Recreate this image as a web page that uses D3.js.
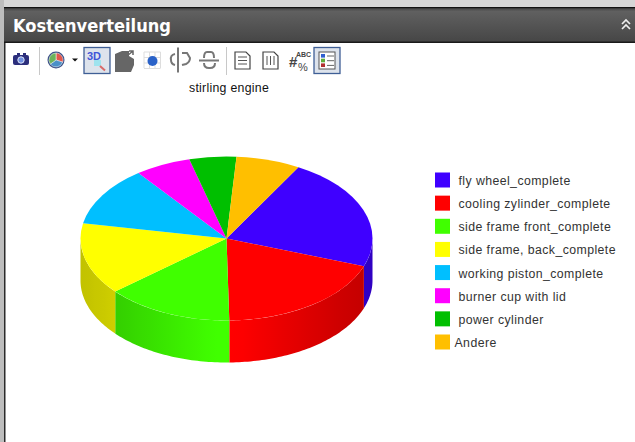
<!DOCTYPE html>
<html>
<head>
<meta charset="utf-8">
<script src="https://cdn.jsdelivr.net/npm/d3@7"></script>
<style>
html, body { margin: 0; padding: 0; background: #fff; overflow: hidden; }
svg { display: block; }
text { font-family: "Liberation Sans", Arial, sans-serif; }
</style>
</head>
<body>
<div id="chart"></div>
<script>
var width = 635, height = 442;

// chart data, percent of cost
var chartTitle = 'stirling engine';
var panelTitle = 'Kostenverteilung';
var categories = ['fly wheel_complete', 'cooling zylinder_complete', 'side frame front_complete',
    'side frame, back_complete', 'working piston_complete', 'burner cup with lid', 'power cylinder', 'Andere'];
var values = [22.3, 19.2, 14.1, 14.2, 11.7, 6.2, 5.2, 7.1];
var colors = ['#3f00ff', '#ff0000', '#40ff00', '#ffff00', '#00bfff', '#ff00ff', '#00bf00', '#ffbf00'];

var cx = 226.5, cy = 238.5, rx = 146, ry = 82, depth = 42;
var startDeg = 29.5;
var tau = Math.PI * 2;

var svg = d3.select('#chart').append('svg').attr('width', width).attr('height', height);
var defs = svg.append('defs');

// panel frame
svg.append('rect').attr('width', width).attr('height', height).attr('fill', '#fff');
svg.append('rect').attr('width', width).attr('height', 7).attr('fill', '#d6d6d6');
svg.append('rect').attr('y', 0).attr('width', 4).attr('height', height).attr('fill', '#bdbdbd');
svg.append('rect').attr('y', 7).attr('x', 4).attr('width', 1.5).attr('height', height - 7).attr('fill', '#2a2a2a');

var headGrad = defs.append('linearGradient').attr('id', 'head').attr('x1', 0).attr('x2', 0).attr('y1', 0).attr('y2', 1);
headGrad.append('stop').attr('offset', 0).attr('stop-color', '#3a3a3a');
headGrad.append('stop').attr('offset', 0.12).attr('stop-color', '#606060');
headGrad.append('stop').attr('offset', 1).attr('stop-color', '#454545');
svg.append('rect').attr('x', 4).attr('y', 7).attr('width', width).attr('height', 36).attr('fill', 'url(#head)');
svg.append('rect').attr('x', 4).attr('y', 7).attr('width', width).attr('height', 1.2).attr('fill', '#111');
svg.append('rect').attr('x', 4).attr('y', 41.5).attr('width', width).attr('height', 1.5).attr('fill', '#1a1a1a');

svg.append('text').attr('x', 13).attr('y', 31.5).attr('fill', '#fff')
    .attr('font-size', 18.5).attr('font-weight', 'bold').text(panelTitle)
    .style('font-family', '"DejaVu Sans", sans-serif').attr('textLength', 158).attr('lengthAdjust', 'spacingAndGlyphs');

// collapse chevrons
[20, 25].forEach(function(y) {
    svg.append('path').attr('d', 'M622,' + (y + 4) + 'l4,-4l4,4').attr('fill', 'none')
        .attr('stroke', '#eee').attr('stroke-width', 1.7);
});

// toolbar
var tb = svg.append('g').attr('class', 'toolbar');
[39, 226].forEach(function(x) {
    tb.append('rect').attr('x', x).attr('y', 47).attr('width', 1).attr('height', 28).attr('fill', '#c8c8c8');
});
// camera
tb.append('rect').attr('x', 13).attr('y', 55).attr('width', 16).attr('height', 10).attr('rx', 2).attr('fill', '#2c2f7c');
tb.append('rect').attr('x', 17).attr('y', 53).attr('width', 3).attr('height', 2).attr('fill', '#2c2f7c');
tb.append('rect').attr('x', 23).attr('y', 53).attr('width', 3).attr('height', 2).attr('fill', '#2c2f7c');
tb.append('circle').attr('cx', 21).attr('cy', 60).attr('r', 3.2).attr('fill', '#6f8fe0').attr('stroke', '#dfe6fa');
// pie type icon
var iconArc = d3.arc().innerRadius(0).outerRadius(7);
var iconPie = d3.pie().sort(null)([30, 35, 35]);
var iconCols = ['#e2574c', '#4a90c8', '#6cb35a'];
var ic = tb.append('g').attr('transform', 'translate(56,60)');
ic.append('circle').attr('r', 8.5).attr('fill', '#3a4f86');
ic.selectAll('path').data(iconPie).enter().append('path').attr('d', iconArc)
    .attr('fill', function(d, i) { return iconCols[i]; }).attr('stroke', '#fff').attr('stroke-width', 0.5);
tb.append('path').attr('d', 'M72,58.5h6l-3,3z').attr('fill', '#111');
// pressed 3D button
tb.append('rect').attr('x', 84).attr('y', 47.5).attr('width', 26).attr('height', 26).attr('fill', '#dde3ec').attr('stroke', '#3f5f96').attr('stroke-width', 1.3);
tb.append('text').attr('x', 87).attr('y', 60).attr('font-size', 11).attr('font-weight', 'bold').attr('fill', '#3f55d8').text('3D');
tb.append('rect').attr('x', 94).attr('y', 60).attr('width', 7).attr('height', 6).attr('fill', '#9fe3ee');
tb.append('path').attr('d', 'M100,66l5,4.5').attr('stroke', '#d86a6a').attr('stroke-width', 2);
// grey disabled icons
tb.append('path').attr('d', 'M115,54l7,-3h7v5l5,3v6l-3,7h-16z').attr('fill', '#666');
tb.append('path').attr('d', 'M127,56l6,-5m-4,0h4v4').attr('stroke', '#666').attr('fill', 'none').attr('stroke-width', 1.5);
tb.append('g').selectAll('path').data([0, 5.5, 11, 16.5]).enter().append('path')
    .attr('d', function(d) { return 'M' + (144 + d) + ',52v16M144,' + (52 + d) + 'h16.5'; })
    .attr('stroke', '#ddd').attr('stroke-width', 1);
tb.append('circle').attr('cx', 152.5).attr('cy', 61).attr('r', 5).attr('fill', '#2a62c8');
tb.append('path').attr('d', 'M178,47.5v25').attr('stroke', '#777').attr('stroke-width', 2);
tb.append('path').attr('d', 'M175,54q-5,1 -4,6q0,4 4,5M182,53h5l3,5q0,4 -4,6l-4,1').attr('stroke', '#777').attr('fill', 'none').attr('stroke-width', 2);
tb.append('path').attr('d', 'M199,60.5h20').attr('stroke', '#777').attr('stroke-width', 2);
tb.append('path').attr('d', 'M204,58q0,-6 3,-6h4q3,0 3,6M204,63q0,5 5,5h1q5,0 5,-5').attr('stroke', '#777').attr('fill', 'none').attr('stroke-width', 2);
// text document icon
tb.append('path').attr('d', 'M235,52h11l4,4v13h-15z').attr('fill', '#fff').attr('stroke', '#444').attr('stroke-width', 1.2);
[57, 60.5, 64].forEach(function(y) {
    tb.append('path').attr('d', 'M238,' + y + 'h9').attr('stroke', '#555');
});
// table document icon
tb.append('path').attr('d', 'M263,52h11l4,4v13h-15z').attr('fill', '#fff').attr('stroke', '#444').attr('stroke-width', 1.2);
[267, 270.5, 274].forEach(function(x) {
    tb.append('path').attr('d', 'M' + x + ',56v9').attr('stroke', '#555');
});
// number format icon
tb.append('text').attr('x', 296).attr('y', 56.5).attr('font-size', 7).attr('font-weight', 'bold').attr('fill', '#444').text('ABC');
tb.append('text').attr('x', 289).attr('y', 67).attr('font-size', 15).attr('font-weight', 'bold').attr('fill', '#444').text('#');
tb.append('text').attr('x', 298).attr('y', 71).attr('font-size', 11).attr('fill', '#444').text('%');
// pressed legend button
tb.append('rect').attr('x', 314).attr('y', 47.5).attr('width', 26).attr('height', 26).attr('fill', '#dde3ec').attr('stroke', '#3f5f96').attr('stroke-width', 1.3);
tb.append('rect').attr('x', 319).attr('y', 52).attr('width', 16).attr('height', 17).attr('fill', '#fff').attr('stroke', '#555');
['#2f5fd0', '#5fae3a', '#b03030'].forEach(function(c, i) {
    tb.append('rect').attr('x', 321).attr('y', 54 + i * 4.7).attr('width', 4).attr('height', 3.6).attr('fill', c);
    tb.append('path').attr('d', 'M327,' + (56 + i * 4.7) + 'h7').attr('stroke', '#666');
});

svg.append('text').attr('x', 229).attr('y', 92).attr('text-anchor', 'middle')
    .attr('font-size', 12.3).attr('letter-spacing', 0.28).attr('fill', '#111').text(chartTitle);

// 3d pie, slices start at the upper right and run clockwise
var pie = d3.pie().sort(null)
    .startAngle(startDeg / 360 * tau)
    .endAngle(startDeg / 360 * tau + tau);
var slices = pie(values);

var xPos = d3.scaleLinear().domain([-1, 1]).range([cx - rx, cx + rx]);
var yPos = d3.scaleLinear().domain([-1, 1]).range([cy - ry, cy + ry]);

// shade of the rim against the distance from the front
var shade = d3.scaleLinear().domain([0, 0.08, 0.8, 1]).range([1, 1, 0.8, 0.76]);

function rimPoint(a, drop) {
    return [xPos(Math.sin(a)), yPos(-Math.cos(a)) + drop];
}

var rim = svg.append('g').attr('class', 'rim');
slices.forEach(function(d, i) {
    // only the part of the slice facing the viewer has a wall
    var spans = [[tau / 4, tau * 3 / 4], [tau * 5 / 4, tau * 7 / 4]];
    spans.forEach(function(s, k) {
        var a0 = Math.max(d.startAngle, s[0]), a1 = Math.min(d.endAngle, s[1]);
        if (a1 <= a0) return;
        var id = 'rim' + i + '_' + k;
        var x0 = rimPoint(a0, 0)[0], x1 = rimPoint(a1, 0)[0];
        var grad = defs.append('linearGradient').attr('id', id)
            .attr('gradientUnits', 'userSpaceOnUse')
            .attr('x1', Math.min(x0, x1)).attr('x2', Math.max(x0, x1)).attr('y1', 0).attr('y2', 0);
        d3.range(0, 1.01, 0.1).forEach(function(t) {
            var x = Math.min(x0, x1) + t * Math.abs(x1 - x0);
            var f = shade(Math.abs(x - cx) / rx);
            var c = d3.rgb(colors[i]);
            grad.append('stop').attr('offset', t)
                .attr('stop-color', d3.rgb(c.r * f, c.g * f, c.b * f).formatHex());
        });
        var angles = d3.range(a0, a1, 0.02).concat([a1]);
        var top = angles.map(function(a) { return rimPoint(a, 0); });
        var bottom = angles.slice().reverse().map(function(a) { return rimPoint(a, depth); });
        rim.append('path').attr('d', d3.line()(top.concat(bottom)) + 'Z').attr('fill', 'url(#' + id + ')');
    });
});

var arc = d3.arc().innerRadius(0).outerRadius(rx);
svg.append('g').attr('class', 'top')
    .attr('transform', 'translate(' + cx + ',' + cy + ') scale(1,' + (ry / rx) + ')')
    .selectAll('path').data(slices).enter().append('path')
    .attr('d', arc)
    .attr('fill', function(d, i) { return colors[i]; });

// legend
var legendY = d3.scalePoint().domain(categories).range([180, 342]);
var legend = svg.append('g').attr('class', 'legend');
var rows = legend.selectAll('g').data(categories).enter().append('g')
    .attr('transform', function(d) { return 'translate(435,' + legendY(d) + ')'; });
rows.append('rect').attr('y', -7.5).attr('width', 15).attr('height', 15)
    .attr('fill', function(d, i) { return colors[i]; });
rows.append('text').attr('x', function(d) { return d === 'Andere' ? 19.5 : 23.5; }).attr('y', 5)
    .attr('font-size', 12.3).attr('letter-spacing', 0.42).attr('fill', '#333').text(function(d) { return d; });
</script>
</body>
</html>
